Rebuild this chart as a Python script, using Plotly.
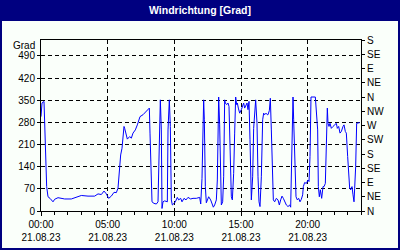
import plotly.graph_objects as go

# time of day in hours (21.08.23), wind direction in degrees
hours = [0.0, 0.075, 0.225, 0.325, 0.425, 0.525, 0.675, 0.9, 1.025, 1.275, 1.525, 1.775, 2.275, 2.525,
         2.775, 3.025, 3.525, 4.025, 4.275, 4.525, 4.725, 4.9, 5.075, 5.275, 5.475, 5.65, 5.775, 5.9,
         5.975, 6.075, 6.15, 6.225, 6.275, 6.35, 6.475, 6.65, 6.775, 6.9, 7.075, 7.225, 7.325, 7.425,
         7.65, 7.825, 7.975, 8.125, 8.175, 8.275, 8.325, 8.475, 8.65, 8.775, 8.875, 8.95, 9.025, 9.075,
         9.15, 9.275, 9.475, 9.525, 9.625, 9.7, 9.775, 9.85, 9.975, 10.075, 10.225, 10.325, 10.475,
         10.575, 10.725, 10.875, 11.025, 11.225, 11.4, 11.65, 11.9, 11.98, 12.075, 12.15, 12.2, 12.25,
         12.325, 12.4, 12.475, 12.575, 12.725, 12.825, 12.925, 13.025, 13.15, 13.225, 13.275, 13.325,
         13.4, 13.45, 13.525, 13.625, 13.7, 13.775, 13.825, 13.925, 14.025, 14.1, 14.15, 14.225, 14.275,
         14.35, 14.45, 14.525, 14.6, 14.675, 14.725, 14.8, 14.9, 15.025, 15.125, 15.2, 15.275, 15.35,
         15.45, 15.525, 15.6, 15.675, 15.725, 15.775, 15.875, 15.95, 16.1, 16.2, 16.275, 16.35, 16.425,
         16.525, 16.625, 16.7, 16.775, 16.875, 16.975, 17.025, 17.125, 17.2, 17.275, 17.35, 17.425,
         17.525, 17.65, 17.775, 17.875, 17.975, 18.075, 18.175, 18.275, 18.4, 18.525, 18.65, 18.725,
         18.775, 18.85, 18.9, 18.95, 19.0, 19.05, 19.125, 19.225, 19.325, 19.425, 19.525, 19.625,
         19.675, 19.775, 19.9, 20.025, 20.1, 20.175, 20.25, 20.575, 20.675, 20.75, 20.8, 20.875, 20.95,
         21.05, 21.15, 21.225, 21.325, 21.425, 21.475, 21.525, 21.6, 21.675, 21.775, 21.9, 22.025,
         22.15, 22.225, 22.325, 22.425, 22.525, 22.65, 22.725, 22.825, 22.9, 23.0, 23.075, 23.15,
         23.225, 23.325, 23.4, 23.475, 23.525, 23.6, 23.675, 23.775, 23.9]
direction = [298, 341, 346, 203, 77, 45, 40, 29, 37, 42, 40, 38, 38, 42,
             47, 49, 47, 47, 54, 52, 63, 54, 40, 47, 59, 58, 72, 140,
             177, 198, 225, 267, 261, 246, 227, 235, 230, 246, 256, 272, 282, 298,
             304, 311, 317, 325, 246, 98, 29, 24, 22, 29, 267, 351, 256, 8,
             29, 32, 29, 256, 351, 267, 35, 19, 24, 29, 43, 35, 40,
             29, 40, 35, 43, 38, 40, 40, 43, 22, 103, 267, 351, 288,
             77, 26, 35, 45, 35, 24, 12, 19, 35, 98, 330, 360,
             272, 98, 19, 29, 108, 351, 341, 336, 341, 330, 235, 108, 45,
             35, 119, 246, 360, 336, 341, 325, 309, 320, 330, 341, 325, 330,
             341, 320, 346, 225, 56, 35, 108, 261, 351, 277, 108, 29, 14,
             108, 288, 309, 304, 309, 304, 304, 317, 356, 256, 108, 35,
             29, 40, 35, 19, 35, 47, 40, 29, 19, 14, 19, 12,
             98, 193, 360, 288, 193, 119, 45, 35, 40, 29, 37, 51,
             77, 90, 87, 98, 93, 172, 360, 360, 285, 256, 77, 45, 67,
             40, 77, 77, 87, 203, 325, 277, 267, 277, 261, 267, 272,
             277, 261, 267, 246, 251, 267, 272, 251, 246, 172, 98, 72,
             67, 77, 51, 29, 72, 140, 277, 277, 279]

y_ticks = [0, 70, 140, 210, 280, 350, 420, 490]
compass_vals = [0, 45, 90, 135, 180, 225, 270, 315, 360, 405, 450, 495, 540]
compass_labels = ["N", "NE", "E", "SE", "S", "SW", "W", "NW", "N", "NE", "E", "SE", "S"]
x_tickvals = [0, 5, 10, 15, 20]
x_ticktext = ["00:00<br>21.08.23", "05:00<br>21.08.23", "10:00<br>21.08.23",
              "15:00<br>21.08.23", "20:00<br>21.08.23"]

W, H = 400, 250
L, R, T, B = 41, 39, 40, 39
PW, PH = W - L - R, H - T - B


def px(x):
    return (x - L) / PW


def py(y):
    return (H - B - y) / PH


NAVY = "#000080"
BG = "#FAFFFA"
FONT = "Liberation Sans"

fig = go.Figure()
fig.add_trace(go.Scatter(x=hours, y=direction, mode="lines",
                         line=dict(color="#0000FF", width=1), showlegend=False,
                         hoverinfo="skip"))
fig.add_trace(go.Scatter(x=[None], y=[None], yaxis="y2", showlegend=False, hoverinfo="skip"))

axis_common = dict(showline=True, linecolor="black", linewidth=1, ticks="outside",
                   tickcolor="black", tickwidth=1, zeroline=False, automargin=False,
                   tickfont=dict(family=FONT, size=10, color="black"))

fig.update_layout(
    width=W, height=H, autosize=False,
    margin=dict(l=L, r=R, t=T, b=B, pad=0),
    paper_bgcolor=BG, plot_bgcolor=BG,
    xaxis=dict(range=[0, 24], tickvals=x_tickvals, ticktext=x_ticktext, ticklen=4,
               mirror=True, showgrid=True, gridcolor="black", gridwidth=1, griddash="4px,3px",
               minor=dict(dtick=1, tick0=0, ticks="outside", ticklen=3, tickcolor="black",
                          showgrid=False),
               **axis_common),
    yaxis=dict(range=[0, 540], tickvals=y_ticks, ticklen=3, mirror=True,
               showgrid=True, gridcolor="black", gridwidth=1, griddash="4px,3px",
               **axis_common),
    yaxis2=dict(range=[0, 540], overlaying="y", side="right", tickvals=compass_vals,
                ticktext=compass_labels, ticklen=3, showgrid=False, **axis_common),
    shapes=[
        dict(type="rect", xref="paper", yref="paper", x0=px(-5), x1=px(W + 5), y0=py(21), y1=py(-5),
             fillcolor=NAVY, line=dict(width=0), layer="below"),
        dict(type="rect", xref="paper", yref="paper", x0=px(-5), x1=px(2), y0=py(H + 5), y1=py(-5),
             fillcolor=NAVY, line=dict(width=0), layer="below"),
        dict(type="rect", xref="paper", yref="paper", x0=px(W - 2), x1=px(W + 5), y0=py(H + 5), y1=py(-5),
             fillcolor=NAVY, line=dict(width=0), layer="below"),
        dict(type="rect", xref="paper", yref="paper", x0=px(-5), x1=px(W + 5), y0=py(H + 5), y1=py(H - 2),
             fillcolor=NAVY, line=dict(width=0), layer="below"),
    ],
    annotations=[
        dict(text="<b>Windrichtung [Grad]</b>", xref="paper", yref="paper", x=px(200), y=py(10.5),
             xanchor="center", yanchor="middle", showarrow=False,
             font=dict(family=FONT, size=10.5, color="white")),
        dict(text="Grad", xref="paper", yref="paper", x=px(37), y=py(45),
             xanchor="right", yanchor="middle", showarrow=False,
             font=dict(family=FONT, size=10, color="black")),
    ],
)

fig.write_html("out.html")
